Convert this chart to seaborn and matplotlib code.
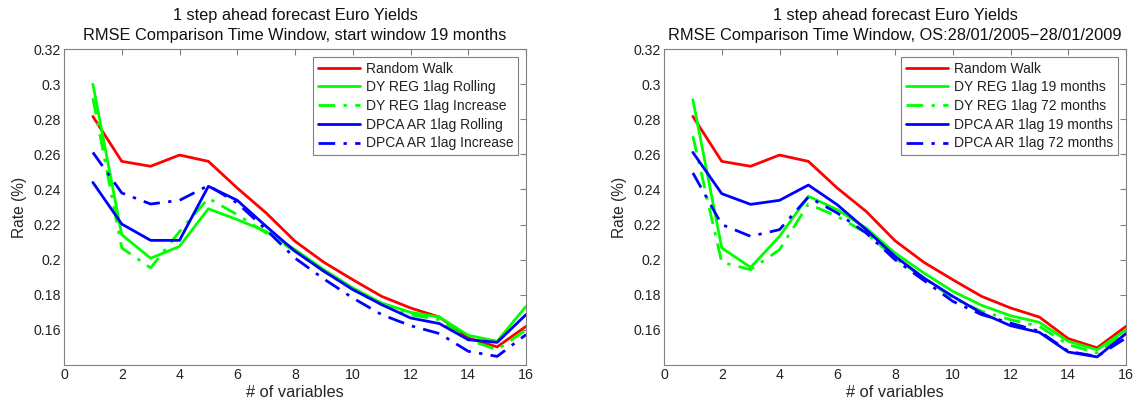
import numpy as np
import pandas as pd
import matplotlib
matplotlib.use("Agg")
import matplotlib.pyplot as plt
import seaborn as sns

sns.set_style("white")
plt.rcParams['font.family'] = ['Liberation Sans', 'DejaVu Sans']

n_vars = list(range(1, 17))

# Left panel: start window 19 months
left_labels = ["Random Walk", "DY REG 1lag Rolling", "DY REG 1lag Increase",
               "DPCA AR 1lag Rolling", "DPCA AR 1lag Increase"]
left_rw = [0.2816, 0.2560, 0.2532, 0.2596, 0.2560, 0.2408, 0.2266, 0.2105,
           0.1985, 0.1886, 0.1791, 0.1725, 0.1673, 0.1554, 0.1503, 0.1620]
left_dy_roll = [0.3000, 0.2142, 0.2008, 0.2076, 0.2290, 0.2228, 0.2161, 0.2057,
                0.1943, 0.1839, 0.1753, 0.1700, 0.1673, 0.1569, 0.1535, 0.1734]
left_dy_inc = [0.2920, 0.2067, 0.1953, 0.2160, 0.2350, 0.2256, 0.2152, 0.2048,
               0.1934, 0.1830, 0.1744, 0.1687, 0.1658, 0.1544, 0.1487, 0.1600]
left_dpca_roll = [0.2440, 0.2203, 0.2110, 0.2110, 0.2418, 0.2338, 0.2190, 0.2048,
                  0.1934, 0.1830, 0.1744, 0.1668, 0.1636, 0.1544, 0.1529, 0.1687]
left_dpca_inc = [0.2611, 0.2380, 0.2317, 0.2338, 0.2422, 0.2323, 0.2171, 0.2009,
                 0.1890, 0.1782, 0.1687, 0.1624, 0.1579, 0.1478, 0.1449, 0.1573]

# Right panel: OS 28/01/2005-28/01/2009
right_labels = ["Random Walk", "DY REG 1lag 19 months", "DY REG 1lag 72 months",
                "DPCA AR 1lag 19 months", "DPCA AR 1lag 72 months"]
right_rw = [0.2816, 0.2560, 0.2532, 0.2596, 0.2560, 0.2408, 0.2275, 0.2108,
            0.1985, 0.1886, 0.1791, 0.1725, 0.1673, 0.1550, 0.1498, 0.1620]
right_dy19 = [0.2911, 0.2067, 0.1956, 0.2133, 0.2361, 0.2285, 0.2180, 0.2038,
              0.1924, 0.1820, 0.1740, 0.1681, 0.1643, 0.1535, 0.1487, 0.1600]
right_dy72 = [0.2703, 0.1985, 0.1943, 0.2057, 0.2317, 0.2247, 0.2152, 0.2009,
              0.1896, 0.1782, 0.1706, 0.1658, 0.1620, 0.1516, 0.1469, 0.1582]
right_dpca19 = [0.2611, 0.2376, 0.2315, 0.2338, 0.2425, 0.2313, 0.2171, 0.2019,
                0.1896, 0.1791, 0.1696, 0.1624, 0.1586, 0.1474, 0.1446, 0.1579]
right_dpca72 = [0.2494, 0.2200, 0.2133, 0.2171, 0.2357, 0.2266, 0.2152, 0.2000,
                0.1882, 0.1763, 0.1687, 0.1639, 0.1592, 0.1478, 0.1449, 0.1554]

titles = ["1 step ahead forecast Euro Yields\nRMSE Comparison Time Window, start window 19 months",
          "1 step ahead forecast Euro Yields\nRMSE Comparison Time Window, OS:28/01/2005\u221228/01/2009"]
x_ticks = [0, 2, 4, 6, 8, 10, 12, 14, 16]
y_ticks = [0.16, 0.18, 0.20, 0.22, 0.24, 0.26, 0.28, 0.30, 0.32]
y_ticklabels = ["0.16", "0.18", "0.2", "0.22", "0.24", "0.26", "0.28", "0.3", "0.32"]

colors = ["#ff0000", "#00ff00", "#00ff00", "#0000ff", "#0000ff"]
styles = ["solid", "solid", "dashdot", "solid", "dashdot"]
dashdot = (0, (6, 3, 1.2, 3))

fig = plt.figure(figsize=(11.37, 4.05), dpi=100)
ax1 = fig.add_axes([64 / 1137, 40 / 405, 462 / 1137, 316 / 405])
ax2 = fig.add_axes([664 / 1137, 40 / 405, 462 / 1137, 316 / 405])

panels = [
    (ax1, left_labels, [left_rw, left_dy_roll, left_dy_inc, left_dpca_roll, left_dpca_inc]),
    (ax2, right_labels, [right_rw, right_dy19, right_dy72, right_dpca19, right_dpca72]),
]

for i, (ax, labels, series) in enumerate(panels):
    for lab, vals, c, s in zip(labels, series, colors, styles):
        df = pd.DataFrame({"x": n_vars, "y": vals})
        sns.lineplot(data=df, x="x", y="y", ax=ax, color=c, linewidth=2,
                     label=lab, linestyle=(dashdot if s == "dashdot" else "-"))
    ax.set_xlim(0, 16)
    ax.set_ylim(0.14, 0.32)
    ax.set_xticks(x_ticks)
    ax.set_xticklabels([str(t) for t in x_ticks])
    ax.set_yticks(y_ticks)
    ax.set_yticklabels(y_ticklabels)
    ax.tick_params(direction="in", length=4, width=0.8, color="#808080",
                   top=True, right=True, labelsize=10.2, labelcolor="#222222")
    ax.tick_params(axis="y", pad=2.5)
    ax.tick_params(axis="x", pad=2.5)
    for sp in ax.spines.values():
        sp.set_visible(True)
        sp.set_color("#808080")
        sp.set_linewidth(0.8)
    ax.set_title(titles[i], fontsize=11.8, linespacing=1.4, pad=6.5, color="#111111")
    ax.set_xlabel("# of variables", fontsize=11.8, labelpad=2)
    ax.set_ylabel("Rate (%)", fontsize=11.2, labelpad=4)
    leg = ax.legend(loc="upper right", fontsize=10, frameon=True, fancybox=False,
                    edgecolor="#808080", framealpha=1, borderaxespad=0.55,
                    handlelength=3.0, handletextpad=0.45, labelspacing=0.34,
                    borderpad=0.35)
    leg.get_frame().set_linewidth(0.8)
    for t in leg.get_texts():
        t.set_color("#222222")

fig.savefig("out.png", dpi=100, facecolor="white")
